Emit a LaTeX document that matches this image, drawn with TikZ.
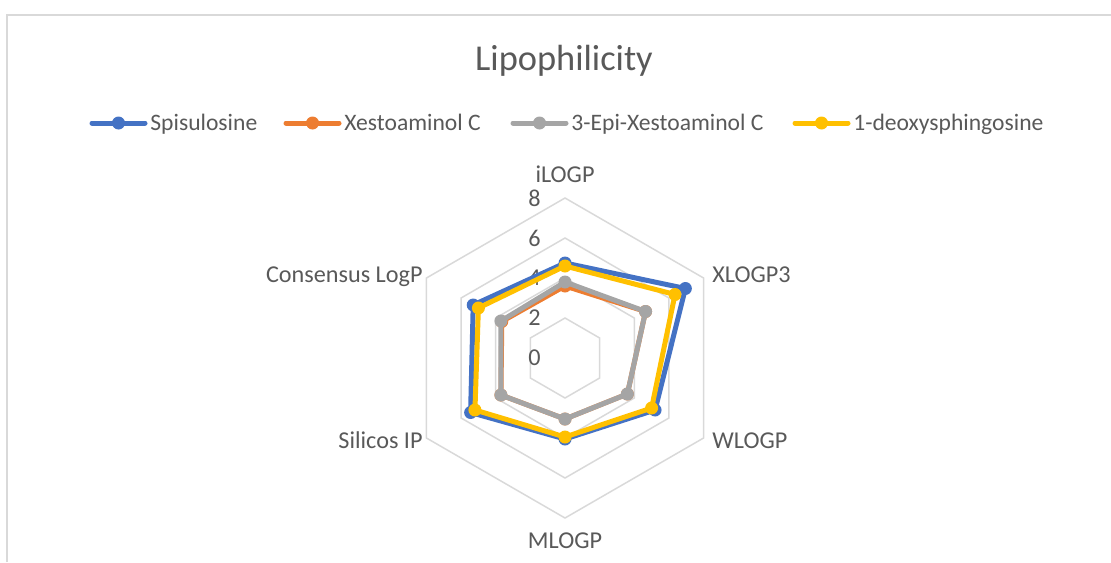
\documentclass[tikz,border=0pt]{standalone}
\usepackage{fontspec}
\setmainfont{Carlito}
\usetikzlibrary{positioning}
\definecolor{spisu}{HTML}{4472C4}
\definecolor{xesto}{HTML}{ED7D31}
\definecolor{epixesto}{HTML}{A5A5A5}
\definecolor{deoxy}{HTML}{FFC000}
\definecolor{txtgray}{HTML}{595959}
\definecolor{gridgray}{HTML}{D9D9D9}

\begin{document}
\begin{tikzpicture}[
    x=0.5pt, y=-0.5pt,
    frame/.style={draw=gridgray, line width=1pt},
    gridline/.style={draw=gridgray, line width=0.75pt},
    series/.style={line width=2.5pt, line join=round, line cap=round},
    title/.style={font=\fontsize{18.2}{21}\selectfont, text=txtgray, inner sep=0pt},
    legtxt/.style={font=\fontsize{11.8}{14}\selectfont, text=txtgray, inner sep=0pt},
    axlbl/.style={font=\fontsize{12.1}{14}\selectfont, text=txtgray, inner sep=0pt},
    ticklbl/.style={axlbl, anchor=east},
]

\useasboundingbox (0,0) rectangle (1111,562);

% Chart frame (cut at right and bottom)
\coordinate (frame-bl) at (7,562);
\coordinate (frame-tl) at (7,15);
\coordinate (frame-tr) at (1111,15);
\draw[frame] (frame-bl) -- (frame-tl) -- (frame-tr);

% Title
\node[title, anchor=base] (title) at (564,70.7) {Lipophilicity};

% ══════════════════════════════════════
%  LEGEND
% ══════════════════════════════════════

\foreach \col/\x/\name in {spisu/92/Spisulosine, xesto/286/Xestoaminol C,
                           epixesto/513/3-Epi-Xestoaminol C, deoxy/795/1-deoxysphingosine} {
    \coordinate (leg-\col-a) at (\x,123);
    \coordinate (leg-\col-m) at (\x+26.5,123);
    \coordinate (leg-\col-b) at (\x+53,123);
    \draw[series, \col] (leg-\col-a) -- (leg-\col-b);
    \fill[\col] (leg-\col-m) circle[radius=6.5];
    \node[legtxt, anchor=base west] (leg-\col) at (\x+58,130.7) {\name};
}

% ══════════════════════════════════════
%  RADAR (20px per unit)
% ══════════════════════════════════════

\begin{scope}[shift={(565,358)}, x=10pt, y=10pt]

% Grid hexagons
\foreach \r in {2,4,6,8}
    \draw[gridline] (90:\r) -- (30:\r) -- (-30:\r) -- (-90:\r)
        -- (-150:\r) -- (150:\r) -- cycle;

% Scale labels
\foreach \r in {0,2,...,8}
    \node[ticklbl] (tick\r) at (-1.2,\r) {\r};

% Series: iLOGP, XLOGP3, WLOGP, MLOGP, Silicos IP, Consensus LogP
\foreach \col/\vals in {spisu/{4.75,6.95,5.2,4.05,5.45,5.3},
                        xesto/{3.6,4.65,3.6,3.05,3.7,3.65},
                        epixesto/{3.8,4.65,3.6,3.05,3.7,3.7},
                        deoxy/{4.6,6.35,5.0,3.95,5.2,5.0}} {
    \foreach \v [count=\i from 0] in \vals
        \coordinate (\col-\i) at ({90-60*\i}:\v);
    \draw[series, \col] (\col-0) -- (\col-1) -- (\col-2) -- (\col-3)
        -- (\col-4) -- (\col-5) -- cycle;
    \foreach \i in {0,...,5}
        \fill[\col] (\col-\i) circle[radius=0.325];
}

\end{scope}

% Axis labels
\node[axlbl, anchor=base] (ilogp) at (565,182.7) {iLOGP};
\node[axlbl, anchor=base west] (xlogp) at (712,282) {XLOGP3};
\node[axlbl, anchor=base west] (wlogp) at (712,448) {WLOGP};
\node[axlbl, anchor=base] (mlogp) at (565,548) {MLOGP};
\node[axlbl, anchor=base east] (silicos) at (423,448) {Silicos IP};
\node[axlbl, anchor=base east] (consensus) at (423,282) {Consensus LogP};

\end{tikzpicture}
\end{document}
